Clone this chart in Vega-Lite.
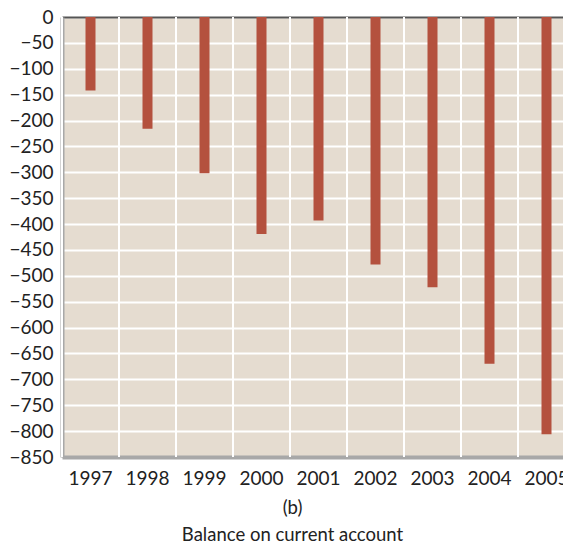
{
  "$schema": "https://vega.github.io/schema/vega-lite/v6.json",
  "width": 513,
  "height": 440,
  "autosize": "none",
  "padding": {"left": 62, "top": 17, "right": 0, "bottom": 85},
  "background": "white",
  "config": {"view": {"fill": "#e5dcd0", "stroke": null}, "font": "Lato"},
  "data": {"values": [
    {"year": "1997", "balance": -142},
    {"year": "1998", "balance": -216},
    {"year": "1999", "balance": -302},
    {"year": "2000", "balance": -419},
    {"year": "2001", "balance": -393},
    {"year": "2002", "balance": -478},
    {"year": "2003", "balance": -522},
    {"year": "2004", "balance": -670},
    {"year": "2005", "balance": -806}
  ]},
  "resolve": {"axis": {"x": "independent"}},
  "layer": [
    {
      "mark": {"type": "rule", "color": "white", "strokeWidth": 2, "xOffset": -28.5},
      "encoding": {
        "x": {"field": "year", "type": "ordinal",
              "scale": {"type": "band", "paddingInner": 0, "paddingOuter": 0},
              "axis": {"orient": "top", "labels": false, "ticks": false, "grid": false,
                       "domainColor": "#555", "domainWidth": 2, "title": null}}
      }
    },
    {
      "mark": {"type": "bar", "color": "#b4513e", "size": 10},
      "encoding": {
        "x": {"field": "year", "type": "ordinal",
              "scale": {"type": "band", "paddingInner": 0, "paddingOuter": 0},
              "axis": {"orient": "bottom", "grid": false, "ticks": false, "domainColor": "#a8a8a8", "domainWidth": 4,
                       "labelAngle": 0, "labelAlign": "center", "labelFontSize": 19, "labelColor": "#222", "labelPadding": 12,
                       "title": ["(b)", "Balance on current account"], "titleFontSize": 18.5,
                       "titleFontWeight": "normal", "titleColor": "#222", "titleLineHeight": 27,
                       "titleAnchor": "start", "titleAlign": "center", "titleBaseline": "alphabetic",
                       "titleX": 230, "titleY": 56}},
        "y": {"field": "balance", "type": "quantitative",
              "scale": {"domain": [-850, 0], "nice": false},
              "axis": {"tickCount": 17, "grid": true, "gridColor": "white", "gridWidth": 2, "ticks": false,
                       "labelOverlap": false,
                       "domainColor": "#a8a8a8", "domainWidth": 4, "labelFontSize": 19,
                       "labelColor": "#222", "labelPadding": 9, "title": null}}
      }
    }
  ]
}
